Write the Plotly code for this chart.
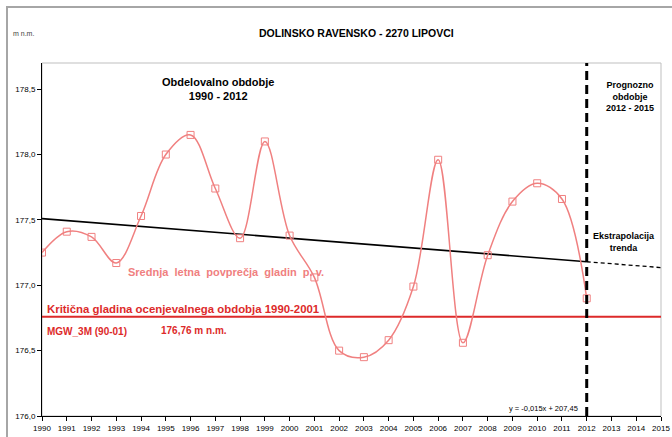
import plotly.graph_objects as go

years = [1990, 1991, 1992, 1993, 1994, 1995, 1996, 1997, 1998, 1999, 2000, 2001,
         2002, 2003, 2004, 2005, 2006, 2007, 2008, 2009, 2010, 2011, 2012]
levels = [177.25, 177.41, 177.37, 177.17, 177.53, 178.00, 178.15, 177.74, 177.36, 178.10,
          177.38, 177.06, 176.50, 176.45, 176.58, 176.99, 177.96, 176.56, 177.23, 177.64,
          177.78, 177.66, 176.90]

trend_years = [1990, 2012]
trend_vals = [177.51, 177.18]
extrap_years = [2012, 2015]
extrap_vals = [177.18, 177.135]

critical_level = 176.76
forecast_start = 2012

x_ticks = list(range(1990, 2016))
y_ticks = [176.0, 176.5, 177.0, 177.5, 178.0, 178.5]
y_tick_labels = ["176,0", "176,5", "177,0", "177,5", "178,0", "178,5"]

FONT = "Liberation Sans, Arial, sans-serif"
SALMON = "#F08080"
RED = "#DD2A2A"
FRAME = "#A6A6A6"

fig = go.Figure()

fig.add_trace(go.Scatter(x=[1990, 2015], y=[critical_level, critical_level], mode="lines",
                         line=dict(color=RED, width=2), hoverinfo="skip", showlegend=False))
fig.add_trace(go.Scatter(x=trend_years, y=trend_vals, mode="lines",
                         line=dict(color="black", width=1.6), showlegend=False))
fig.add_trace(go.Scatter(x=extrap_years, y=extrap_vals, mode="lines",
                         line=dict(color="black", width=1.3, dash="4px,3px"), showlegend=False))
fig.add_trace(go.Scatter(x=years, y=levels, mode="lines+markers",
                         line=dict(color=SALMON, width=1.5, shape="spline", smoothing=1.0),
                         marker=dict(symbol="square-open", size=7, color=SALMON,
                                     line=dict(width=1)),
                         showlegend=False))
# invisible trace that carries the outer frame axes
fig.add_trace(go.Scatter(x=[0.5], y=[0.5], xaxis="x2", yaxis="y2", mode="markers",
                         marker=dict(opacity=0), hoverinfo="skip", showlegend=False))

# the paper area is the chart frame (page x 7.., y 7..); plot area is page x 42..661, y 63..416
W, H = 672, 437
ML, MT = 8, 8
PW, PH = W - ML, H - MT
def px(x):
    return (x - ML) / PW
def py(y):
    return (H - y) / PH

shapes = [
    dict(type="rect", xref="x domain", yref="y domain", x0=0, y0=0, x1=1, y1=1,
         line=dict(color="#BFBFBF", width=1), layer="below"),
    dict(type="line", xref="x", yref="y domain", x0=forecast_start, x1=forecast_start, y0=0, y1=1,
         line=dict(color="black", width=3, dash="9px,5px")),
]

ann = []
def add(text, x, y, size, color="black", bold=True, xref="x", yref="y"):
    ann.append(dict(text=("<b>%s</b>" % text) if bold else text, x=x, y=y, xref=xref, yref=yref,
                    showarrow=False, xanchor="center", yanchor="middle",
                    font=dict(family=FONT, size=size, color=color)))

add("DOLINSKO RAVENSKO - 2270 LIPOVCI", px(356), py(33), 10.5, xref="paper", yref="paper")
add("m n.m.", px(23), py(33), 7, color="#404040", bold=False, xref="paper", yref="paper")
add("Obdelovalno obdobje<br>1990 - 2012", 1997.09, 178.50, 11)
add("Prognozno<br>obdobje<br>2012 - 2015", 2013.75, 178.44, 9)
add("Ekstrapolacija<br>trenda", 2013.5, 177.33, 9)
add("Srednja  letna  povprečja  gladin  p. v.", 1997.42, 177.10, 11, color=SALMON)
add("Kritična gladina ocenjevalnega obdobja 1990-2001", 1995.71, 176.815, 11.4, color=RED)
add("MGW_3M (90-01)", 1991.8, 176.65, 10, color=RED)
add("176,76 m n.m.", 1996.12, 176.655, 10, color=RED)
add("y = -0,015x + 207,45", 2010.27, 176.055, 7.5, bold=False)

fig.update_layout(
    width=W, height=H, autosize=False,
    margin=dict(l=ML, r=0, t=MT, b=0, pad=0),
    paper_bgcolor="white", plot_bgcolor="rgba(0,0,0,0)",
    font=dict(family=FONT, size=8, color="black"),
    shapes=shapes, annotations=ann,
    xaxis=dict(domain=[px(42), px(661)], range=[1990, 2015], tickvals=x_ticks,
               ticktext=[str(v) for v in x_ticks], anchor="y",
               showgrid=False, zeroline=False, showline=True, linecolor="black", linewidth=1,
               ticks="outside", ticklen=4, tickcolor="black", tickfont=dict(size=8),
               automargin=False),
    yaxis=dict(domain=[py(416), py(63)], range=[176.0, 178.7], tickvals=y_ticks,
               ticktext=y_tick_labels, anchor="x",
               showgrid=False, zeroline=False, showline=True, linecolor="black", linewidth=1,
               ticks="outside", ticklen=4, tickcolor="black", tickfont=dict(size=8),
               automargin=False),
    xaxis2=dict(domain=[0, 1], range=[0, 1], anchor="y2", side="top",
                showline=True, linecolor=FRAME, linewidth=2, showgrid=False, zeroline=False,
                showticklabels=False, ticks="", automargin=False, fixedrange=True),
    yaxis2=dict(domain=[0, 1], range=[0, 1], anchor="x2", side="left",
                showline=True, linecolor=FRAME, linewidth=2, showgrid=False, zeroline=False,
                showticklabels=False, ticks="", automargin=False, fixedrange=True),
)

fig.write_html("out.html", config={"responsive": False, "displayModeBar": False},
               post_script="document.body.style.margin='0';document.body.style.overflow='hidden';")
